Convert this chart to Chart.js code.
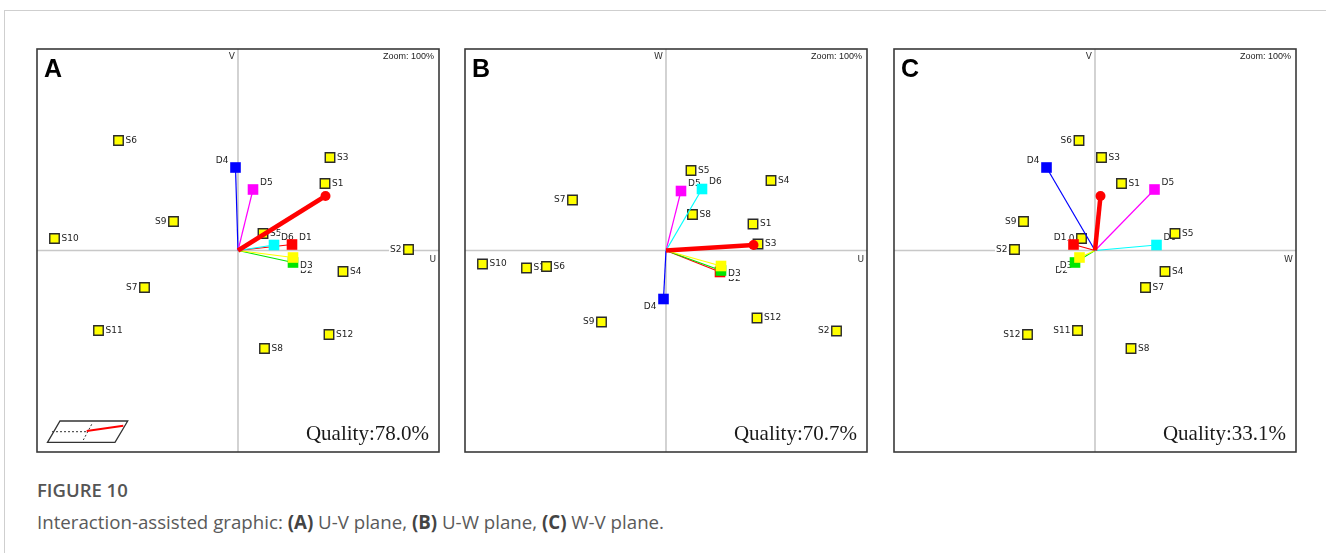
<!DOCTYPE html>
<html><head><meta charset="utf-8">
<script src="https://cdn.jsdelivr.net/npm/chart.js@4/dist/chart.umd.min.js"></script>
<style>
html,body{margin:0;padding:0;background:#fff}
body{width:1326px;height:553px;position:relative;overflow:hidden}
.ft{position:absolute;left:4px;top:10px;right:0;border-top:1px solid #cfcfcf}
.fl{position:absolute;left:4px;top:10px;bottom:0;border-left:1px solid #cfcfcf}
canvas.p{position:absolute;top:48px}
#cap1{position:absolute;left:37px;top:477px;font:600 18.5px "Open Sans",sans-serif;color:#555;white-space:nowrap}
#cap2{position:absolute;left:37px;top:509px;font:400 18.7px "Open Sans",sans-serif;color:#5a5a5a;white-space:nowrap}
#cap2 b{font-weight:700;color:#444}
</style></head>
<body>
<div class="ft"></div><div class="fl"></div>
<canvas class="p" id="cA" width="404" height="405" style="left:36px"></canvas>
<canvas class="p" id="cB" width="404" height="405" style="left:464px"></canvas>
<canvas class="p" id="cC" width="404" height="405" style="left:893px"></canvas>
<div id="cap1">FIGURE 10</div>
<div id="cap2">Interaction-assisted graphic: <b>(A)</b> U-V plane, <b>(B)</b> U-W plane, <b>(C)</b> W-V plane.</div>
<script>
// ---- data ----
const sampleNames = ['S1','S2','S3','S4','S5','S6','S7','S8','S9','S10','S11','S12'];
const sampleU = [87, 170.5, 92, 105, 25, -119.5, -93.5, 26.5, -64.5, -183.5, -139.5, 91];
const sampleV = [67, 1, 93, -21, 17, 110, -37, -98, 29, 12, -80, -84];
const sampleW = [26.5, -80.5, 6.5, 70, 80, -16, 50.5, 36, -71.5, -13.5, -17.5, -67.5];
const dimNames = ['D1','D2','D3','D4','D5','D6'];
const dimU = [54, 55, 55, -2.5, 15, 36];
const dimV = [6, -12, -7, 83, 61, 5.5];
const dimW = [-21.5, -20, -15.5, -48.5, 59.5, 61.5];
const resultUVW = [87.5, 54.5, 5.5];
const panelLetters = ['A', 'B', 'C'];
const panelPlanes = [['U','V'], ['U','W'], ['W','V']];
const qualityLabels = ['Quality:78.0%', 'Quality:70.7%', 'Quality:33.1%'];

// ---- styles / layout ----
const dimColors = ['#ff0000', '#00e600', '#ffff00', '#0000ff', '#ff00ff', '#00ffff'];
const sampleSides = [
  ['R','L','R','R','R','R','L','R','L','R','R','R'],
  ['R','L','R','R','R','R','L','R','L','R','R','R'],
  ['R','L','R','R','R','L','R','R','L','L','L','L']
];
const dimSides = [
  ['ar','br','br','al','ar','ar'],
  ['br','br','br','bl','ar','ar'],
  ['al','bl','bl','al','ar','ar']
];
const coords = {
  U: {s: sampleU, d: dimU, r: resultUVW[0]},
  V: {s: sampleV, d: dimV, r: resultUVW[1]},
  W: {s: sampleW, d: dimW, r: resultUVW[2]}
};

const panelDeco = {
  id: 'panelDeco',
  beforeDatasetsDraw(chart, args, o) {
    const {ctx, chartArea: a, scales: {x, y}} = chart;
    const x0 = x.getPixelForValue(0), y0 = y.getPixelForValue(0);
    ctx.save();
    ctx.strokeStyle = '#c8c8c8'; ctx.lineWidth = 1.6;
    ctx.beginPath();
    ctx.moveTo(x0, a.top); ctx.lineTo(x0, a.bottom);
    ctx.moveTo(a.left, y0); ctx.lineTo(a.right, y0);
    ctx.stroke();
    ctx.font = '9px "DejaVu Sans"'; ctx.fillStyle = '#333'; ctx.textBaseline = 'middle';
    ctx.textAlign = 'right';
    ctx.fillText(o.vName, x0 - 3, a.top + 8);
    ctx.fillText(o.hName, a.right - 3, y0 + 9);
    ctx.font = '9px "Liberation Sans"'; ctx.fillStyle = '#222';
    ctx.fillText('Zoom: 100%', a.right - 5, a.top + 8);
    ctx.font = '9px "DejaVu Sans"';
    ctx.textAlign = 'left';
    const drawLabel = (text, px, py, side) => {
      const w = ctx.measureText(text).width;
      let tx = px + 7, ty = py;
      if (side === 'L') tx = px - 7 - w;
      else if (side === 'ar') { ty = py - 7; }
      else if (side === 'al') { tx = px - 7 - w; ty = py - 7; }
      else if (side === 'br') { ty = py + 8; }
      else if (side === 'bl') { tx = px - 7 - w; ty = py + 8; }
      ctx.fillStyle = '#fff'; ctx.fillRect(tx - 1, ty - 5, w + 2, 10);
      ctx.fillStyle = '#222'; ctx.fillText(text, tx, ty);
    };
    const sMeta = chart.getDatasetMeta(chart.data.datasets.length - 1);
    sMeta.data.forEach((pt, i) => drawLabel(sampleNames[i], pt.x, pt.y, o.sSides[i]));
    dimNames.forEach((n, i) => {
      const meta = chart.getDatasetMeta(chart.data.datasets.findIndex(d => d.label === n));
      const pt = meta.data[1];
      drawLabel(n, pt.x, pt.y, o.dSides[i]);
    });
    ctx.restore();
  },
  afterDatasetsDraw(chart, args, o) {
    const {ctx, chartArea: a} = chart;
    ctx.save();
    ctx.strokeStyle = '#3a3a3a'; ctx.lineWidth = 1.6;
    ctx.strokeRect(a.left, a.top, a.right - a.left, a.bottom - a.top);
    ctx.fillStyle = '#000'; ctx.font = 'bold 25px "Liberation Sans"';
    ctx.textAlign = 'left'; ctx.textBaseline = 'alphabetic';
    ctx.fillText(o.letter, a.left + 7, a.top + 28);
    ctx.fillStyle = '#1a1a1a'; ctx.font = '21px "Liberation Serif"';
    ctx.textAlign = 'right';
    ctx.fillText(o.quality, a.right - 10, a.bottom - 12);
    if (o.icon) {
      const L = a.left, B = a.bottom;
      ctx.strokeStyle = '#333'; ctx.lineWidth = 1.3;
      ctx.beginPath();
      ctx.moveTo(L + 10.5, B - 9.7); ctx.lineTo(L + 23, B - 31);
      ctx.lineTo(L + 90.7, B - 31); ctx.lineTo(L + 78, B - 9.7); ctx.closePath();
      ctx.stroke();
      ctx.lineWidth = 1; ctx.setLineDash([2, 2]);
      ctx.beginPath(); ctx.moveTo(L + 15, B - 20.3); ctx.lineTo(L + 50, B - 20.3);
      ctx.moveTo(L + 54.7, B - 27.7); ctx.lineTo(L + 46.3, B - 12); ctx.stroke();
      ctx.setLineDash([]);
      ctx.strokeStyle = '#ff0000'; ctx.lineWidth = 2;
      ctx.beginPath(); ctx.moveTo(L + 49.7, B - 21); ctx.lineTo(L + 86.3, B - 26.3); ctx.stroke();
    }
    ctx.restore();
  }
};

function makePanel(id, k) {
  const [hn, vn] = panelPlanes[k];
  const H = coords[hn], V = coords[vn];
  const datasets = [];
  datasets.push({
    label: 'result', showLine: true,
    data: [{x: 0, y: 0}, {x: H.r, y: V.r}],
    borderColor: '#ff0000', borderWidth: 4.5, backgroundColor: '#ff0000',
    pointStyle: 'circle', pointRadius: [0, 5], pointBorderWidth: 0
  });
  for (let i = dimNames.length - 1; i >= 0; i--) {
    datasets.push({
      label: dimNames[i], showLine: true,
      data: [{x: 0, y: 0}, {x: H.d[i], y: V.d[i]}],
      borderColor: dimColors[i], borderWidth: 1.2, backgroundColor: dimColors[i],
      pointStyle: 'rect', pointRadius: [0, 7.5], pointBorderWidth: 0
    });
  }
  datasets.push({
    label: 'samples', showLine: false,
    data: sampleNames.map((n, i) => ({x: H.s[i], y: V.s[i]})),
    backgroundColor: '#ffff00', borderColor: '#2a2a2a', pointBorderWidth: 1.4,
    pointStyle: 'rect', pointRadius: 6.7
  });
  new Chart(document.getElementById(id), {
    type: 'scatter',
    data: {datasets},
    options: {
      responsive: false, animation: false, devicePixelRatio: 1,
      layout: {padding: 1, autoPadding: false},
      scales: {
        x: {type: 'linear', min: -201, max: 201, display: false},
        y: {type: 'linear', min: -201.5, max: 201.5, display: false}
      },
      plugins: {
        legend: {display: false}, tooltip: {enabled: false},
        panelDeco: {
          hName: hn, vName: vn, letter: panelLetters[k], quality: qualityLabels[k],
          sSides: sampleSides[k], dSides: dimSides[k], icon: k === 0
        }
      }
    },
    plugins: [panelDeco]
  });
}
makePanel('cA', 0);
makePanel('cB', 1);
makePanel('cC', 2);
</script>
</body></html>
